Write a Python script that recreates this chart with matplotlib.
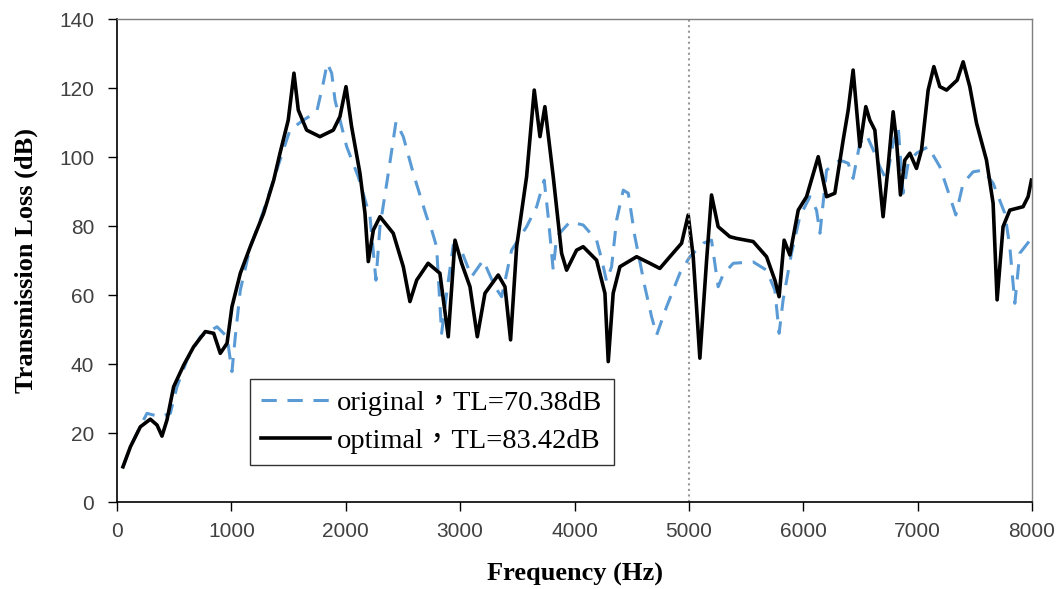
#!/usr/bin/env python3
"""Transmission loss of the original and optimal muffler designs."""

import matplotlib
matplotlib.use("Agg")
import matplotlib.pyplot as plt

# (Hz, dB)
freq_original = [
    50, 117, 204, 262, 379, 466, 524, 612, 728, 874, 962, 1005, 1034, 1078,
    1165, 1253, 1340, 1425, 1512, 1629, 1746, 1803, 1838, 1877, 1906, 2008,
    2109, 2212, 2264, 2299, 2372, 2439, 2503, 2590, 2707, 2750, 2794, 2838,
    2882, 2940, 2998, 3100, 3202, 3304, 3363, 3450, 3581, 3669, 3735, 3770,
    3814, 3843, 3960, 4076, 4193, 4240, 4280, 4324, 4368, 4426, 4470, 4528,
    4615, 4674, 4718, 4805, 4921, 5009, 5125, 5198, 5256, 5300, 5388, 5562,
    5679, 5752, 5789, 5824, 5897, 5970, 6058, 6116, 6146, 6204, 6320, 6393,
    6436, 6495, 6553, 6626, 6669, 6728, 6786, 6830, 6873, 6917, 6990, 7092,
    7194, 7282, 7334, 7398, 7485, 7573, 7660, 7762, 7806, 7850, 7893, 7995,
]
tl_original = [
    10, 16, 22, 25.7, 24.7, 25.7, 33.4, 41.2, 47.9, 50.8, 47.9, 37.8, 47.9,
    61.4, 74.0, 81.7, 90.4, 99.1, 107.8, 110.7, 113.1, 121.4, 127.2, 124.3,
    116.5, 103, 94.3, 82.7, 64.3, 79.8, 95.3, 110.2, 105.9, 95.3, 82.7, 79,
    74, 48.9, 60.5, 74.5, 74, 65.3, 70.1, 62.4, 59.5, 73, 79.8, 85.6, 93.3,
    82.7, 67.2, 76.9, 81.2, 80.3, 75.9, 70, 64, 68.2, 81.7, 90.4, 89.5,
    76.9, 62.4, 53.7, 48.4, 56.6, 66.3, 71.1, 75, 75.9, 62.4, 66, 69.2,
    69.6, 67.2, 61.4, 48.9, 58.6, 72.1, 82.7, 88.5, 84.6, 77.9, 96.2, 99.1,
    98.2, 93.8, 104, 106.4, 101, 97.2, 93.3, 104, 108.8, 89.5, 98.2, 101.1,
    103, 97.2, 88.5, 83.2, 92.4, 95.7, 96.2, 92.4, 83.7, 74, 57.6, 72.1,
    76.4,
]

freq_optimal = [
    52, 117, 204, 291, 350, 393, 437, 495, 583, 670, 772, 845, 903, 962, 1005,
    1078, 1165, 1282, 1370, 1425, 1497, 1547, 1585, 1658, 1774, 1891, 1949,
    2002, 2051, 2124, 2168, 2197, 2241, 2299, 2415, 2503, 2561, 2620, 2720,
    2823, 2896, 2955, 3013, 3086, 3150, 3217, 3333, 3392, 3441, 3494, 3581,
    3648, 3698, 3741, 3814, 3887, 3931, 4018, 4076, 4193, 4266, 4295, 4338,
    4397, 4543, 4659, 4746, 4834, 4936, 4994, 5038, 5096, 5155, 5198, 5256,
    5358, 5417, 5562, 5679, 5752, 5789, 5833, 5883, 5956, 6029, 6131, 6204,
    6276, 6349, 6393, 6436, 6495, 6547, 6582, 6626, 6656, 6698, 6742, 6786,
    6815, 6850, 6888, 6932, 6990, 7034, 7092, 7142, 7194, 7253, 7346, 7398,
    7456, 7515, 7602, 7660, 7695, 7747, 7806, 7922, 7966, 7995,
]
tl_optimal = [
    10.2, 16.0, 21.8, 24.0, 22.3, 19.1, 23.8, 33.4, 39.7, 45.0, 49.4, 48.9,
    43.1, 46.0, 56.6, 66.3, 74.0, 83.7, 93.3, 101.1, 110.7, 124.3, 113.6,
    107.8, 105.9, 107.8, 111.7, 120.4, 108.8, 95.3, 83.7, 69.7, 78.8, 82.7,
    77.9, 68.2, 58.1, 64.3, 69.2, 66.3, 47.9, 75.9, 69.2, 62.4, 47.9, 60.5,
    65.8, 62.4, 47, 74, 94.3, 119.4, 105.9, 114.6, 94.3, 72.1, 67.2, 73, 74,
    70.1, 60.5, 40.7, 60.5, 68.2, 71.1, 69.2, 67.7, 71.1, 75, 83.2, 71.1,
    41.7, 70.1, 89, 79.8, 76.9, 76.4, 75.5, 71.1, 64.3, 59.5, 75.9, 71.6,
    84.6, 88.5, 100.1, 88.5, 89.5, 104.9, 113.6, 125.2, 103, 114.6, 110.7,
    107.8, 97.2, 82.7, 97.2, 113.1, 104.9, 89, 99.1, 101.1, 96.7, 102, 119.4,
    126.2, 120.4, 119.4, 122.3, 127.6, 120.4, 109.8, 99.1, 86.6, 58.6, 79.8,
    84.6, 85.6, 88.5, 93.3,
]

label_original = "original\uff0cTL=70.38dB"
label_optimal = "optimal\uff0cTL=83.42dB"
marker_freq = 5000

serif = ["Liberation Serif", "Noto Sans CJK TC", "DejaVu Serif"]
sans = ["Liberation Sans", "DejaVu Sans"]

fig = plt.figure(figsize=(10.59, 5.89), dpi=100)
ax = fig.add_axes([0.1105, 0.1477, 0.864, 0.82])

ax.plot(freq_original, tl_original, color="#5b9bd5", linewidth=2.2,
        dashes=(5, 3.5), label=label_original, solid_joinstyle="round",
        dash_joinstyle="round")
ax.plot(freq_optimal, tl_optimal, color="black", linewidth=2.6,
        label=label_optimal, solid_joinstyle="round")
ax.axvline(marker_freq, color="#999999", linestyle=":", linewidth=1.5)

ax.set_xlim(0, 8000)
ax.set_ylim(0, 140)
ax.set_xticks(range(0, 8001, 1000))
ax.set_yticks(range(0, 141, 20))
ax.tick_params(direction="out", length=6.5, width=1, labelsize=15,
               colors="black", labelcolor="#404040")
ax.tick_params(axis="x", pad=8)
ax.tick_params(axis="y", pad=10)
for lab in ax.get_xticklabels() + ax.get_yticklabels():
    lab.set_family(sans)

for side in ("left", "bottom"):
    ax.spines[side].set_linewidth(1.2)
    ax.spines[side].set_color("black")
for side in ("top", "right"):
    ax.spines[side].set_linewidth(1.0)
    ax.spines[side].set_color("#7f7f7f")

ax.set_xlabel("Frequency (Hz)", family=serif, fontweight="bold", fontsize=19)
ax.set_ylabel("Transmission Loss (dB)", family=serif, fontweight="bold",
              fontsize=19)
ax.xaxis.set_label_coords(0.5, -0.126)
ax.yaxis.set_label_coords(-0.086, 0.5)

leg = ax.legend(loc="lower left", bbox_to_anchor=(0.2361, 0.2105),
                bbox_transform=fig.transFigure, frameon=True, fancybox=False,
                prop={"family": serif, "size": 20.5}, handlelength=2.4,
                handletextpad=0.25, borderpad=0.4, labelspacing=0.4,
                borderaxespad=0)
leg.get_frame().set_edgecolor("black")
leg.get_frame().set_linewidth(1.0)

fig.savefig("out.png", dpi=100)
